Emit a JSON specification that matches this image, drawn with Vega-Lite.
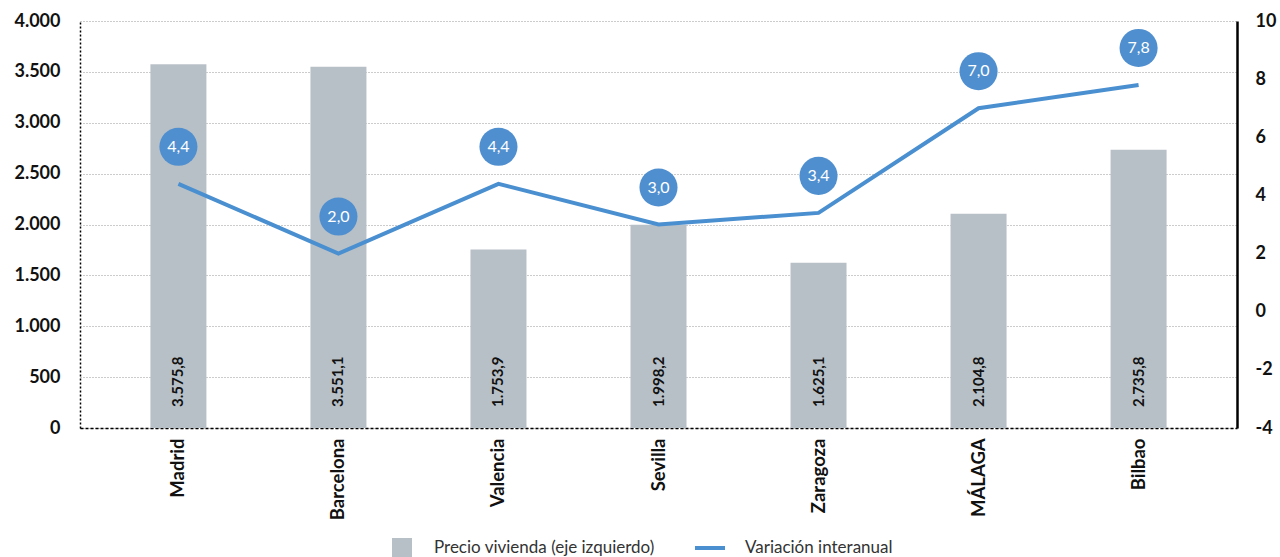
{
  "$schema": "https://vega.github.io/schema/vega-lite/v6.json",
  "autosize": {"type": "none"},
  "width": 1157,
  "height": 407,
  "padding": {"left": 80, "top": 21, "right": 43, "bottom": 129},
  "background": "white",
  "config": {
    "locale": {"number": {"decimal": ",", "thousands": ".", "grouping": [3], "currency": ["", " €"], "minus": "-"}},
    "font": "Lato",
    "view": {"stroke": null},
    "axis": {"labelFont": "Lato", "labelColor": "#111", "labelFontWeight": "bold"}
  },
  "data": {
    "values": [
      {"ciudad": "Madrid", "precio": 3575.8, "variacion": 4.4},
      {"ciudad": "Barcelona", "precio": 3551.1, "variacion": 2.0},
      {"ciudad": "Valencia", "precio": 1753.9, "variacion": 4.4},
      {"ciudad": "Sevilla", "precio": 1998.2, "variacion": 3.0},
      {"ciudad": "Zaragoza", "precio": 1625.1, "variacion": 3.4},
      {"ciudad": "MÁLAGA", "precio": 2104.8, "variacion": 7.0},
      {"ciudad": "Bilbao", "precio": 2735.8, "variacion": 7.8}
    ]
  },
  "encoding": {
    "x": {
      "field": "ciudad", "type": "nominal", "sort": null,
      "scale": {"paddingInner": 0.65, "paddingOuter": 0.44},
      "axis": {
        "title": null, "labelAngle": 270, "labelFontSize": 18.5, "labelPadding": 10,
        "ticks": false, "domainColor": "#000", "domainDash": [3, 2], "domainWidth": 1.5
      }
    }
  },
  "layer": [
    {
      "encoding": {
        "y": {
          "field": "precio", "type": "quantitative",
          "scale": {"domain": [0, 4000]},
          "axis": {
            "title": null, "values": [0, 500, 1000, 1500, 2000, 2500, 3000, 3500, 4000],
            "format": ",.0f", "labelFontSize": 18, "labelPadding": 20, "ticks": false,
            "domainColor": "#000", "domainDash": [2, 2], "domainWidth": 1.5,
            "grid": true, "gridColor": "#999", "gridDash": [1, 2], "gridWidth": 1
          }
        }
      },
      "layer": [
        {
          "mark": {"type": "bar"},
          "encoding": {
            "fill": {
              "datum": "Precio vivienda (eje izquierdo)",
              "scale": {"range": ["#b8c0c7"]},
              "legend": {
                "title": null, "orient": "none", "legendX": 312, "legendY": 517,
                "symbolType": "square", "symbolSize": 400, "symbolStrokeWidth": 0,
                "labelFontSize": 17, "labelFont": "Lato", "labelColor": "#333", "labelOffset": 22, "labelLimit": 400, "padding": 0
              }
            }
          }
        },
        {
          "mark": {"type": "text", "angle": 270, "align": "left", "baseline": "middle", "dx": 21, "fontSize": 15, "fontWeight": "bold", "color": "#111"},
          "encoding": {
            "y": {"datum": 0},
            "text": {"field": "precio", "type": "quantitative", "format": ",.1f"}
          }
        }
      ]
    },
    {
      "encoding": {
        "y": {
          "field": "variacion", "type": "quantitative",
          "scale": {"domain": [-4, 10]},
          "axis": {
            "title": null, "orient": "right", "values": [-4, -2, 0, 2, 4, 6, 8, 10],
            "labelFontSize": 18, "labelPadding": 18, "ticks": false,
            "domainColor": "#000", "domainWidth": 2.5, "grid": false
          }
        }
      },
      "layer": [
        {
          "mark": {"type": "line", "strokeWidth": 4},
          "encoding": {
            "stroke": {
              "datum": "Variación interanual",
              "scale": {"range": ["#4a8fd0"]},
              "legend": {
                "title": null, "orient": "none", "legendX": 613, "legendY": 510,
                "symbolType": "stroke", "symbolSize": 900, "symbolStrokeWidth": 4,
                "labelFontSize": 17, "labelFont": "Lato", "labelColor": "#333", "labelOffset": 18, "labelLimit": 400, "padding": 0
              }
            }
          }
        },
        {
          "mark": {"type": "point", "filled": true, "shape": "circle", "size": 1450, "color": "#4f8fcf", "opacity": 1, "yOffset": -37}
        },
        {
          "mark": {"type": "text", "color": "white", "fontSize": 16, "yOffset": -37, "baseline": "middle", "align": "center"},
          "encoding": {"text": {"field": "variacion", "type": "quantitative", "format": ".1f"}}
        }
      ]
    }
  ],
  "resolve": {"scale": {"y": "independent"}}
}
